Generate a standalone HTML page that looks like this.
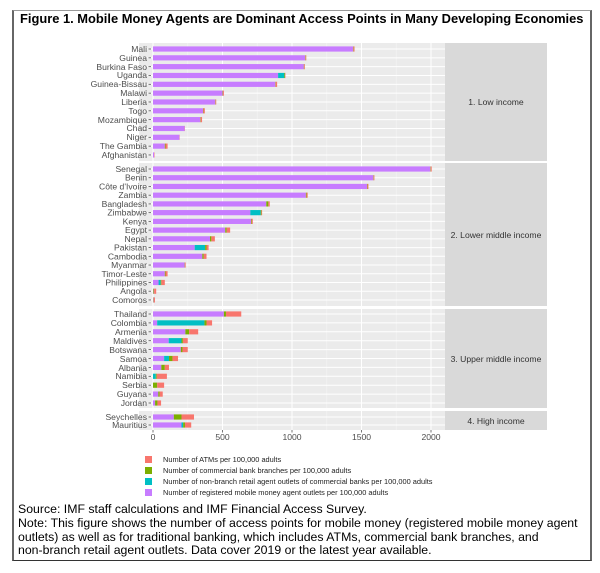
<!DOCTYPE html>
<html><head><meta charset="utf-8"><style>
body{margin:0;background:#fff;width:600px;height:573px;overflow:hidden;font-family:"Liberation Sans",Arial,sans-serif}
#box{position:absolute;left:12px;top:10px;width:576px;height:549px;border:2px solid #666;border-top:1px solid #999;border-bottom:1px solid #333}
.t{position:absolute;left:20px;top:11px;font-weight:bold;font-size:12.9px;white-space:nowrap;letter-spacing:0}
.note{position:absolute;left:18px;top:503px;font-size:12.3px;line-height:13.8px;white-space:nowrap}
svg{position:absolute;left:0;top:0}
</style></head><body>
<div id="box"></div>
<div class="t">Figure 1. Mobile Money Agents are Dominant Access Points in Many Developing Economies</div>
<svg width="600" height="573" id="s" font-family="Liberation Sans, Arial, sans-serif">
<g id="bg"></g>
<g font-size="8.6" fill="#4d4d4d" text-anchor="end" id="lab">
<text x="147" y="52">Mali</text><text x="147" y="61">Guinea</text><text x="147" y="70">Burkina Faso</text><text x="147" y="78">Uganda</text><text x="147" y="87">Guinea-Bissau</text><text x="147" y="96">Malawi</text><text x="147" y="105">Liberia</text><text x="147" y="114">Togo</text><text x="147" y="123">Mozambique</text><text x="147" y="131">Chad</text><text x="147" y="140">Niger</text><text x="147" y="149">The Gambia</text><text x="147" y="158">Afghanistan</text>
<text x="147" y="172">Senegal</text><text x="147" y="180.7">Benin</text><text x="147" y="189.5">Côte d'Ivoire</text><text x="147" y="198.2">Zambia</text><text x="147" y="206.9">Bangladesh</text><text x="147" y="215.7">Zimbabwe</text><text x="147" y="224.4">Kenya</text><text x="147" y="233.1">Egypt</text><text x="147" y="241.8">Nepal</text><text x="147" y="250.6">Pakistan</text><text x="147" y="259.3">Cambodia</text><text x="147" y="268">Myanmar</text><text x="147" y="276.8">Timor-Leste</text><text x="147" y="285.5">Philippines</text><text x="147" y="294.2">Angola</text><text x="147" y="303">Comoros</text>
<text x="147" y="317">Thailand</text><text x="147" y="326">Colombia</text><text x="147" y="335">Armenia</text><text x="147" y="344">Maldives</text><text x="147" y="353">Botswana</text><text x="147" y="362">Samoa</text><text x="147" y="371">Albania</text><text x="147" y="379">Namibia</text><text x="147" y="388">Serbia</text><text x="147" y="397">Guyana</text><text x="147" y="406">Jordan</text>
<text x="147" y="420">Seychelles</text><text x="147" y="428">Mauritius</text>
</g>
<g font-size="8.6" fill="#333" text-anchor="middle">
<text x="496" y="105">1. Low income</text>
<text x="496" y="238">2. Lower middle income</text>
<text x="496" y="362">3. Upper middle income</text>
<text x="496" y="424">4. High income</text>
</g>
<g font-size="8.6" fill="#4d4d4d" text-anchor="middle">
<text x="153" y="440">0</text><text x="222.5" y="440">500</text><text x="292" y="440">1000</text><text x="361.5" y="440">1500</text><text x="431" y="440">2000</text>
</g>
<g font-size="7.4" fill="#222">
<rect x="145" y="456" width="7" height="7" fill="#F8766D"/><text x="163" y="462">Number of ATMs per 100,000 adults</text>
<rect x="145" y="467" width="7" height="7" fill="#7CAE00"/><text x="163" y="473">Number of commercial bank branches per 100,000 adults</text>
<rect x="145" y="478" width="7" height="7" fill="#00BFC4"/><text x="163" y="484">Number of non-branch retail agent outlets of commercial banks per 100,000 adults</text>
<rect x="145" y="489" width="7" height="7" fill="#C77CFF"/><text x="163" y="495">Number of registered mobile money agent outlets per 100,000 adults</text>
</g>
</svg>
<div class="note">Source: IMF staff calculations and IMF Financial Access Survey.<br>Note: This figure shows the number of access points for mobile money (registered mobile money agent<br>outlets) as well as for traditional banking, which includes ATMs, commercial bank branches, and<br>non-branch retail agent outlets. Data cover 2019 or the latest year available.</div>
<script>
var NS="http://www.w3.org/2000/svg",bg=document.getElementById('bg');
function r(x,y,w,h,f){var e=document.createElementNS(NS,'rect');e.setAttribute('x',x);e.setAttribute('y',y);e.setAttribute('width',w);e.setAttribute('height',h);e.setAttribute('fill',f);bg.appendChild(e);}
function l(x1,y1,x2,y2,c,w){var e=document.createElementNS(NS,'line');e.setAttribute('x1',x1);e.setAttribute('y1',y1);e.setAttribute('x2',x2);e.setAttribute('y2',y2);e.setAttribute('stroke',c);e.setAttribute('stroke-width',w);bg.appendChild(e);}
var C={p:'#C77CFF',t:'#00BFC4',g:'#7CAE00',r:'#F8766D'};
var panels=[
 {y0:43,y1:161,c0:49,st:8.83,d:[[1440,0,3,7],[1095,0,3,5],[1085,0,3,5],[900,45,5,3],[880,0,3,10],[500,0,3,7],[448,0,2,5],[360,0,3,10],[340,0,3,10],[228,0,0,2],[190,0,0,2],[85,0,5,15],[8,0,0,3]]},
 {y0:163,y1:306,c0:169,st:8.73,d:[[1995,0,3,7],[1585,0,3,5],[1540,0,3,7],[1100,0,5,8],[815,0,15,10],[700,75,5,5],[705,0,5,8],[520,0,10,25],[410,0,10,25],[300,75,10,15],[355,0,10,20],[228,0,2,5],[85,0,5,15],[40,15,5,25],[3,0,5,15],[3,0,3,8]]},
 {y0:309,y1:408,c0:314,st:8.9,d:[[510,0,15,110],[30,340,15,40],[233,0,27,65],[113,92,10,35],[200,0,12,38],[80,35,25,40],[60,0,25,30],[0,20,7,73],[0,0,30,50],[38,0,10,22],[15,0,17,26]]},
 {y0:411,y1:430,c0:417,st:8,d:[[150,0,55,90],[205,12,13,45]]}
];
var X0=153,S=0.139;
panels.forEach(function(P){
 r(139,P.y0,306,P.y1-P.y0,'#EBEBEB');
 r(445,P.y0,102,P.y1-P.y0,'#D9D9D9');
 [187.75,257.25,326.75,396.25].forEach(function(x){l(x,P.y0,x,P.y1,'#F5F5F5',0.6)});
 [153,222.5,292,361.5,431].forEach(function(x){l(x,P.y0,x,P.y1,'#fff',1)});
 P.d.forEach(function(v,i){var y=P.c0+i*P.st;l(139,y,445,y,'#fff',1);l(148.5,y,151,y,'#555',0.8);});
 P.d.forEach(function(v,i){var y=P.c0+i*P.st,x=X0;['p','t','g','r'].forEach(function(k,j){if(v[j]>0){var w=v[j]*S;r(x,y-2.6,w,5.2,C[k]);x+=w;}});});
});
[153,222.5,292,361.5,431].forEach(function(x){l(x,430,x,432.5,'#555',0.8)});
</script>
</body></html>
